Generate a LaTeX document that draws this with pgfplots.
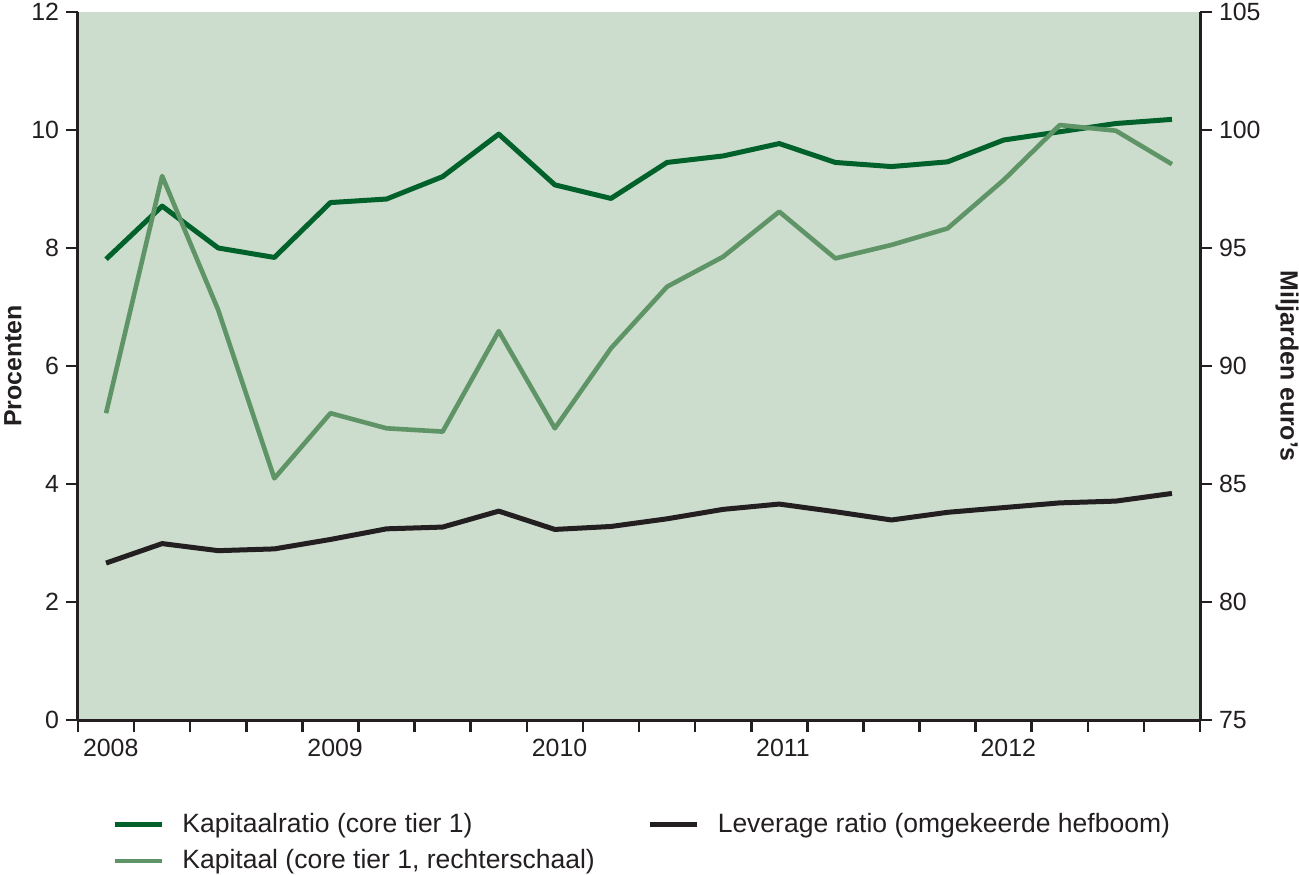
\documentclass[border=0pt]{standalone}
\usepackage{pgfplots}
\pgfplotsset{compat=1.18}
\usepackage{fontspec}
\setmainfont{Liberation Sans}
\definecolor{darkg}{HTML}{00612A}
\definecolor{lightg}{HTML}{5F9566}
\definecolor{bgc}{HTML}{CCDCCD}
\definecolor{axc}{HTML}{231F20}
\pgfplotsset{
  common/.style={
    scale only axis, width=561bp, height=354bp,
    anchor=south west, at={(0,0)},
    xmin=0, xmax=20,
    tick align=outside, major tick length=6bp,
    tick style={line width=1.3bp, color=axc},
    axis line style={line width=1.5bp, color=axc},
    ticklabel style={font=\fontsize{12.5}{15}\selectfont, text=axc},
    /pgf/number format/assume math mode=true,
    label style={font=\fontsize{12.5}{15}\selectfont\bfseries, text=axc},
  }
}
\begin{document}
\begin{tikzpicture}
\path[use as bounding box] (-39bp,-77.5bp) rectangle (610.5bp,360bp);
\begin{axis}[common,
  axis x line*=bottom, axis y line*=left,
  axis background/.style={fill=bgc},
  ymin=0, ymax=12, ytick={0,2,...,12},
  xtick={0,...,20},
  xticklabels={2008,,,,2009,,,,2010,,,,2011,,,,2012,,,,},
  xticklabel style={anchor=north west, xshift=-1bp},
  ylabel={Procenten},
  ylabel style={at={(axis description cs:-0.058,0.5)}, anchor=center},
  legend columns=2,
  legend cell align=left,
  legend style={at={(axis description cs:0.0303,-0.126)}, anchor=north west,
    draw=none, fill=none, inner sep=0pt,
    font=\fontsize{13.3}{16}\selectfont, text=axc,
    row sep=3bp,
    /tikz/every odd column/.append style={column sep=7bp},
    /tikz/every even column/.append style={column sep=24.5bp}},
  legend image code/.code={\draw[#1] (0bp,0bp) -- (23.5bp,0bp);},
]
\addplot[darkg, line width=2.5bp, line join=round] coordinates {
(0.5,7.81) (1.5,8.71) (2.5,8.00) (3.5,7.84) (4.5,8.77) (5.5,8.83) (6.5,9.21) (7.5,9.93)
(8.5,9.07) (9.5,8.84) (10.5,9.45) (11.5,9.56) (12.5,9.77) (13.5,9.45) (14.5,9.38) (15.5,9.46)
(16.5,9.83) (17.5,9.97) (18.5,10.11) (19.5,10.18)};
\addlegendentry{Kapitaalratio (core tier 1)}
\addplot[axc, line width=2.5bp, line join=round] coordinates {
(0.5,2.66) (1.5,2.99) (2.5,2.87) (3.5,2.90) (4.5,3.06) (5.5,3.24) (6.5,3.27) (7.5,3.54)
(8.5,3.23) (9.5,3.28) (10.5,3.41) (11.5,3.57) (12.5,3.66) (13.5,3.53) (14.5,3.39) (15.5,3.52)
(16.5,3.60) (17.5,3.68) (18.5,3.71) (19.5,3.84)};
\addlegendentry{Leverage ratio (omgekeerde hefboom)}
\addlegendimage{lightg, line width=2.3bp}
\addlegendentry{Kapitaal (core tier 1, rechterschaal)}
\end{axis}
\begin{axis}[common,
  axis x line=none, axis y line*=right,
  ymin=75, ymax=105, ytick={75,80,...,105},
  ylabel={Miljarden euro's},
  ylabel style={at={(axis description cs:1.0775,0.5)}, anchor=center, rotate=180},
]
\addplot[lightg, line width=2.3bp, line join=round] coordinates {
(0.5,88.0) (1.5,98.05) (2.5,92.37) (3.5,85.24) (4.5,88.0) (5.5,87.36) (6.5,87.22) (7.5,91.48)
(8.5,87.36) (9.5,90.75) (10.5,93.36) (11.5,94.63) (12.5,96.54) (13.5,94.56) (14.5,95.13) (15.5,95.83)
(16.5,97.88) (17.5,100.21) (18.5,99.97) (19.5,98.55)};
\end{axis}
\end{tikzpicture}
\end{document}
